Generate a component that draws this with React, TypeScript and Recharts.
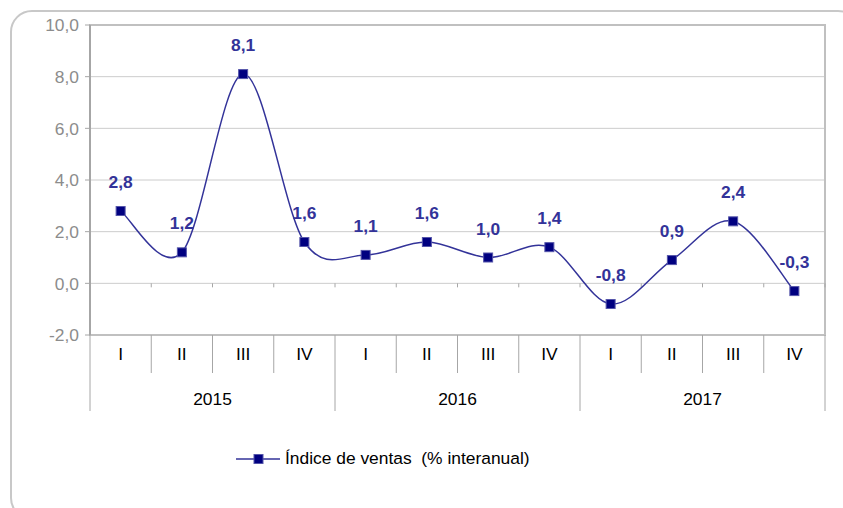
import React from "react";
import {
  ComposedChart,
  Line,
  XAxis,
  YAxis,
  CartesianGrid,
  ReferenceArea,
  ReferenceLine,
  LabelList,
  Legend,
} from "recharts";

const years = ["2015", "2016", "2017"];
const quarters = ["I", "II", "III", "IV"];
const salesIndex = [2.8, 1.2, 8.1, 1.6, 1.1, 1.6, 1.0, 1.4, -0.8, 0.9, 2.4, -0.3];
const yTicks = [-2, 0, 2, 4, 6, 8, 10];
const seriesName = "Índice de ventas  (% interanual)";

const data = salesIndex.map((v, i) => ({
  key: `${years[Math.floor(i / 4)]}-${quarters[i % 4]}`,
  q: quarters[i % 4],
  year: years[Math.floor(i / 4)],
  v,
}));

const W = 843;
const H = 508;
const FONT = "'Liberation Sans', Arial, sans-serif";
const FS = 17.4;
const LINE = "#333399";
const MARK = "#000080";
const ROW = 38;

const fmt = (v: number) => v.toFixed(1).replace(".", ",");

// excel-like smoothing (catmull-rom as cubic bezier)
const smoothCurve = (ctx: any) => {
  let pts: number[][] = [];
  return {
    areaStart() {},
    areaEnd() {},
    lineStart() {
      pts = [];
    },
    point(x: number, y: number) {
      pts.push([+x, +y]);
    },
    lineEnd() {
      if (!pts.length) return;
      ctx.moveTo(pts[0][0], pts[0][1]);
      for (let i = 0; i < pts.length - 1; i++) {
        const p0 = pts[Math.max(i - 1, 0)];
        const p1 = pts[i];
        const p2 = pts[i + 1];
        const p3 = pts[Math.min(i + 2, pts.length - 1)];
        ctx.bezierCurveTo(
          p1[0] + (p2[0] - p0[0]) / 6,
          p1[1] + (p2[1] - p0[1]) / 6,
          p2[0] - (p3[0] - p1[0]) / 6,
          p2[1] - (p3[1] - p1[1]) / 6,
          p2[0],
          p2[1]
        );
      }
    },
  };
};

const axisWidth = (props: any) => {
  const w = Number(props.width);
  return w > 0 ? w : 735;
};

const QuarterTick = (props: any) => {
  const { x, y, index } = props;
  const bw = axisWidth(props) / data.length;
  const q = data[index]?.q ?? "";
  return (
    <g>
      {index % 4 !== 0 && (
        <line x1={x - bw / 2} x2={x - bw / 2} y1={y} y2={y + ROW} stroke="#a6a6a6" strokeWidth={1} />
      )}
      <text x={x} y={y + 25} textAnchor="middle" fontSize={FS} fill="#000">
        {q}
      </text>
    </g>
  );
};

const YearTick = (props: any) => {
  const { x, y, payload, index } = props;
  const bw = axisWidth(props) / years.length;
  const count = Number(props.visibleTicksCount) || years.length;
  const perYear = Math.max(1, Math.round(count / years.length));
  if (index % perYear !== 0) return <g />;
  const isLast = Math.floor(index / perYear) === years.length - 1;
  return (
    <g>
      <line x1={x - bw / 2} x2={x - bw / 2} y1={y - ROW} y2={y + ROW} stroke="#a6a6a6" strokeWidth={1} />
      {isLast && (
        <line x1={x + bw / 2} x2={x + bw / 2} y1={y - ROW} y2={y + ROW} stroke="#a6a6a6" strokeWidth={1} />
      )}
      <text x={x} y={y + 32} textAnchor="middle" fontSize={FS} fill="#000">
        {payload.value}
      </text>
    </g>
  );
};

const ZeroTicks = (props: any) => {
  const { x1, x2, y1 } = props;
  if (x1 == null) return null;
  const step = (x2 - x1) / data.length;
  return (
    <g>
      {Array.from({ length: data.length + 1 }, (_, i) => (
        <line key={i} x1={x1 + i * step} x2={x1 + i * step} y1={y1} y2={y1 + 4} stroke="#a6a6a6" strokeWidth={1} />
      ))}
    </g>
  );
};

const Marker = (props: any) => {
  const { cx, cy } = props;
  if (cx == null || cy == null) return null;
  return <rect x={cx - 4.5} y={cy - 4.5} width={9} height={9} fill={MARK} stroke="#5555aa" strokeWidth={1} />;
};

const ValueLabel = (props: any) => {
  const { x, y, value } = props;
  return (
    <text x={x} y={y - 23} textAnchor="middle" fontSize={FS} fontWeight="bold" fill={LINE}>
      {fmt(Number(value))}
    </text>
  );
};

const LegendBox = () => (
  <div style={{ width: W, height: 97 }}>
    <svg width={W} height={97}>
      <line x1={236} x2={280} y1={48} y2={48} stroke={LINE} strokeWidth={1.5} />
      <rect x={254} y={43.5} width={9} height={9} fill={MARK} stroke="#5555aa" strokeWidth={1} />
      <text x={285} y={53} fontSize={FS} fill="#000" style={{ whiteSpace: "pre" }}>
        {seriesName}
      </text>
    </svg>
  </div>
);

export default function App() {
  return (
    <div
      style={{
        position: "absolute",
        left: 0,
        top: 0,
        width: W,
        height: H,
        overflow: "hidden",
        background: "#fff",
        fontFamily: FONT,
      }}
    >
      <div
        style={{
          position: "absolute",
          left: 10,
          top: 10,
          width: 850,
          height: 510,
          border: "2px solid #c8c8c8",
          borderRadius: 22,
          boxSizing: "border-box",
        }}
      />
      <ComposedChart
        width={W}
        height={H}
        data={data}
        margin={{ top: 25, right: 18, bottom: 0, left: 10 }}
        style={{ position: "absolute", left: 0, top: 0 }}
      >
        <CartesianGrid vertical={false} stroke="#cccccc" strokeWidth={1} />
        <ReferenceArea y1={-2} y2={10} fill="none" stroke="#c0c0c0" strokeWidth={2} ifOverflow="visible" />
        <ReferenceLine y={0} stroke="#bdbdbd" shape={ZeroTicks} />
        <XAxis
          xAxisId={0}
          dataKey="key"
          scale="band"
          axisLine={false}
          tickLine={false}
          tickSize={0}
          tickMargin={0}
          interval={0}
          height={ROW}
          tick={QuarterTick}
        />
        <XAxis
          xAxisId={1}
          dataKey="year"
          scale="band"
          allowDuplicatedCategory={false}
          axisLine={false}
          tickLine={false}
          tickSize={0}
          tickMargin={0}
          interval={0}
          height={ROW}
          tick={YearTick}
        />
        <YAxis
          width={80}
          domain={[-2, 10]}
          ticks={yTicks}
          interval={0}
          tickFormatter={fmt}
          tick={{ fontSize: FS, fill: "#8c8c8c" }}
          axisLine={{ stroke: "#a6a6a6", strokeWidth: 2 }}
          tickLine={{ stroke: "#a6a6a6" }}
          tickSize={5}
          tickMargin={6}
        />
        <Legend verticalAlign="bottom" wrapperStyle={{ left: 0, bottom: 0, width: W, height: 97 }} content={LegendBox} />
        <Line
          dataKey="v"
          name={seriesName}
          type={smoothCurve as any}
          stroke={LINE}
          strokeWidth={1.5}
          dot={Marker}
          activeDot={false}
          isAnimationActive={false}
        >
          <LabelList dataKey="v" content={ValueLabel} />
        </Line>
      </ComposedChart>
    </div>
  );
}
